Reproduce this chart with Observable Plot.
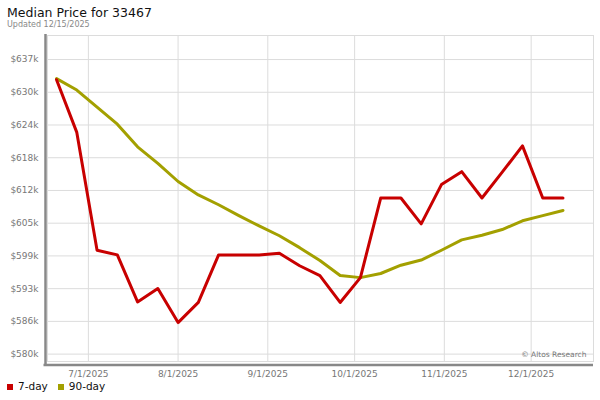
<!DOCTYPE html>
<html>
<head>
<meta charset="utf-8">
<script src="https://cdn.jsdelivr.net/npm/d3@7"></script>
<script src="https://cdn.jsdelivr.net/npm/@observablehq/plot@0.6"></script>
<style>
  html, body { margin: 0; padding: 0; background: #fff; }
  body { width: 600px; height: 400px; position: relative; font-family: "DejaVu Sans", sans-serif; overflow: hidden; }
  #title { position: absolute; left: 7px; top: 7px; font-size: 12.5px; line-height: 12px; color: #111; white-space: nowrap; }
  #subtitle { position: absolute; left: 7px; top: 21px; font-size: 8px; line-height: 8px; color: #888; white-space: nowrap; }
  #chart { position: absolute; left: 0; top: 30px; }
  #legend { position: absolute; left: 7px; top: 381px; font-size: 10.5px; line-height: 11px; color: #111; display: flex; align-items: center; white-space: nowrap; }
  .sw { display: inline-block; width: 6px; height: 6px; margin-right: 5px; }
  .item { display: inline-flex; align-items: center; margin-right: 10px; }
</style>
</head>
<body>
<div id="title">Median Price for 33467</div>
<div id="subtitle">Updated 12/15/2025</div>
<div id="chart"></div>
<div id="legend"></div>
<script>
// ---- data ----
const dates = ["2025-06-20","2025-06-27","2025-07-04","2025-07-11","2025-07-18","2025-07-25",
  "2025-08-01","2025-08-08","2025-08-15","2025-08-22","2025-08-29","2025-09-05",
  "2025-09-12","2025-09-19","2025-09-26","2025-10-03","2025-10-10","2025-10-17",
  "2025-10-24","2025-10-31","2025-11-07","2025-11-14","2025-11-21","2025-11-28",
  "2025-12-05","2025-12-12"];
const sevenDay = [633100, 622900, 600100, 599200, 590100, 592700,
  586100, 590000, 599200, 599200, 599200, 599500,
  597100, 595200, 590000, 594800, 610200, 610200,
  605200, 612800, 615300, 610200, 615200, 620300,
  610200, 610200];
const ninetyDay = [633300, 631100, 627800, 624500, 620100, 616900,
  613400, 610800, 608900, 606800, 604800, 602900,
  600600, 598100, 595200, 594800, 595600, 597200,
  598200, 600100, 602100, 603000, 604100, 605800,
  606800, 607800];
const seriesNames = ["7-day", "90-day"];
const seriesColors = ["#c80000", "#a3a000"];
const yTicks = [580000, 586333, 592667, 599000, 605333, 611667, 618000, 624333, 630667, 637000];
const yTickLabels = ["$580k","$586k","$593k","$599k","$605k","$612k","$618k","$624k","$630k","$637k"];
const xTickDates = ["2025-07-01","2025-08-01","2025-09-01","2025-10-01","2025-11-01","2025-12-01"];
const xTickLabels = ["7/1/2025","8/1/2025","9/1/2025","10/1/2025","11/1/2025","12/1/2025"];
const xDomainStr = ["2025-06-16T21:00:00Z", "2025-12-22T13:00:00Z"];
const yDomain = [578570, 641650];
const watermark = "© Altos Research";

// ---- build ----
const parse = d3.utcParse("%Y-%m-%d");
const xTicks = xTickDates.map(parse);
const xLabelMap = new Map(xTicks.map((t, i) => [+t, xTickLabels[i]]));
const yLabelMap = new Map(yTicks.map((t, i) => [t, yTickLabels[i]]));
const xDomain = xDomainStr.map(s => new Date(s));
const rows7 = dates.map((d, i) => ({date: parse(d), value: sevenDay[i], series: seriesNames[0]}));
const rows90 = dates.map((d, i) => ({date: parse(d), value: ninetyDay[i], series: seriesNames[1]}));

const chart = Plot.plot({
  width: 600,
  height: 352,
  marginTop: 5,
  marginBottom: 21,
  marginLeft: 47,
  marginRight: 7,
  style: {fontFamily: "DejaVu Sans, sans-serif", fontSize: "9px", color: "#777", background: "white", overflow: "visible"},
  x: {type: "utc", domain: xDomain, ticks: xTicks, tickFormat: d => xLabelMap.get(+d), tickSize: 0, tickPadding: 9, label: null},
  y: {domain: yDomain, ticks: yTicks, tickFormat: d => yLabelMap.get(d), tickSize: 0, tickPadding: 9, label: null},
  marks: [
    Plot.ruleY(yTicks, {stroke: "#dcdcdc", strokeWidth: 1}),
    Plot.ruleX(xTicks, {stroke: "#dcdcdc", strokeWidth: 1}),
    Plot.frame({stroke: "#dcdcdc"}),
    Plot.ruleX([xDomain[0]], {stroke: "#888", strokeWidth: 2.5, dx: -2, insetTop: -1, insetBottom: -4.5}),
    Plot.ruleY([yDomain[0]], {stroke: "#888", strokeWidth: 2.5, dy: 3.5, insetLeft: -3.5}),
    Plot.line(rows90, {x: "date", y: "value", stroke: seriesColors[1], strokeWidth: 3}),
    Plot.line(rows7, {x: "date", y: "value", stroke: seriesColors[0], strokeWidth: 3}),
    Plot.text([watermark], {text: d => d, frameAnchor: "bottom-right", dx: -7, dy: -5, fontSize: 7.5, fill: "#777"})
  ]
});
document.getElementById("chart").appendChild(chart);

const legend = document.getElementById("legend");
seriesNames.forEach((name, i) => {
  const item = document.createElement("span");
  item.className = "item";
  const sw = document.createElement("span");
  sw.className = "sw";
  sw.style.background = seriesColors[i];
  item.appendChild(sw);
  item.appendChild(document.createTextNode(name));
  legend.appendChild(item);
});
</script>
</body>
</html>
